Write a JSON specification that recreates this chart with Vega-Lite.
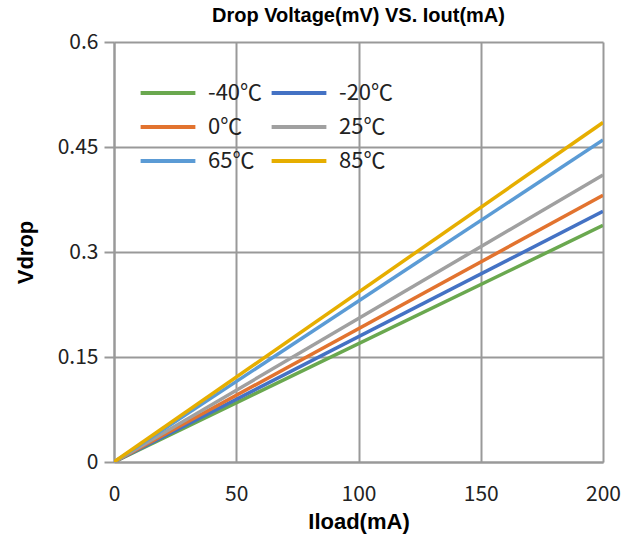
{
  "$schema": "https://vega.github.io/schema/vega-lite/v6.json",
  "autosize": {"type": "none"},
  "width": 489,
  "height": 420,
  "padding": {"left": 114, "top": 42, "right": 34, "bottom": 88},
  "background": "white",
  "title": {
    "text": "Drop Voltage(mV) VS. Iout(mA)",
    "font": "Liberation Sans",
    "fontSize": 20,
    "fontWeight": "bold",
    "color": "#000000",
    "anchor": "middle",
    "offset": 5
  },
  "data": {
    "values": [
      {"iload": 0, "vdrop": 0, "temp": "-40℃"},
      {"iload": 200, "vdrop": 0.338, "temp": "-40℃"},
      {"iload": 0, "vdrop": 0, "temp": "-20℃"},
      {"iload": 200, "vdrop": 0.358, "temp": "-20℃"},
      {"iload": 0, "vdrop": 0, "temp": "0℃"},
      {"iload": 200, "vdrop": 0.381, "temp": "0℃"},
      {"iload": 0, "vdrop": 0, "temp": "25℃"},
      {"iload": 200, "vdrop": 0.41, "temp": "25℃"},
      {"iload": 0, "vdrop": 0, "temp": "65℃"},
      {"iload": 200, "vdrop": 0.46, "temp": "65℃"},
      {"iload": 0, "vdrop": 0, "temp": "85℃"},
      {"iload": 200, "vdrop": 0.485, "temp": "85℃"}
    ]
  },
  "mark": {"type": "line", "strokeWidth": 3.5, "clip": true},
  "encoding": {
    "x": {
      "field": "iload",
      "type": "quantitative",
      "scale": {"domain": [0, 200], "nice": false},
      "axis": {
        "values": [0, 50, 100, 150, 200],
        "title": "Iload(mA)",
        "titleFont": "Liberation Sans",
        "titleFontSize": 22,
        "titleFontWeight": "bold",
        "titleColor": "#000000",
        "titlePadding": 7,
        "labelFont": "Noto Sans CJK SC",
        "labelFontSize": 21,
        "labelColor": "#222222",
        "labelPadding": 21,
        "ticks": false,
        "domainColor": "#999999",
        "domainWidth": 2,
        "gridColor": "#999999",
        "gridWidth": 2,
        "labelFlush": false
      }
    },
    "y": {
      "field": "vdrop",
      "type": "quantitative",
      "scale": {"domain": [0, 0.6], "nice": false},
      "axis": {
        "values": [0, 0.15, 0.3, 0.45, 0.6],
        "format": ".2~f",
        "title": "Vdrop",
        "titleFont": "Liberation Sans",
        "titleFontSize": 22,
        "titleFontWeight": "bold",
        "titleColor": "#000000",
        "titlePadding": 20,
        "labelFont": "Noto Sans CJK SC",
        "labelFontSize": 21,
        "labelColor": "#222222",
        "labelPadding": 6,
        "tickSize": 10,
        "tickColor": "#999999",
        "tickWidth": 2,
        "domainColor": "#999999",
        "domainWidth": 2,
        "gridColor": "#999999",
        "gridWidth": 2
      }
    },
    "color": {
      "field": "temp",
      "type": "nominal",
      "scale": {
        "domain": ["-40℃", "0℃", "65℃", "-20℃", "25℃", "85℃"],
        "range": ["#6AA84F", "#E2732F", "#5B9BD5", "#4472C4", "#A0A0A0", "#E6AE00"]
      },
      "legend": {
        "orient": "none",
        "legendX": 36,
        "legendY": 33,
        "columns": 2,
        "title": null,
        "symbolType": "M-2,0H2",
        "symbolSize": 750,
        "symbolStrokeWidth": 4,
        "labelFont": "Noto Sans CJK SC",
        "labelFontSize": 22,
        "labelColor": "#222222",
        "labelOffset": 24,
        "columnPadding": 0,
        "rowPadding": 7,
        "padding": 2
      }
    }
  },
  "config": {
    "view": {"stroke": null}
  }
}
